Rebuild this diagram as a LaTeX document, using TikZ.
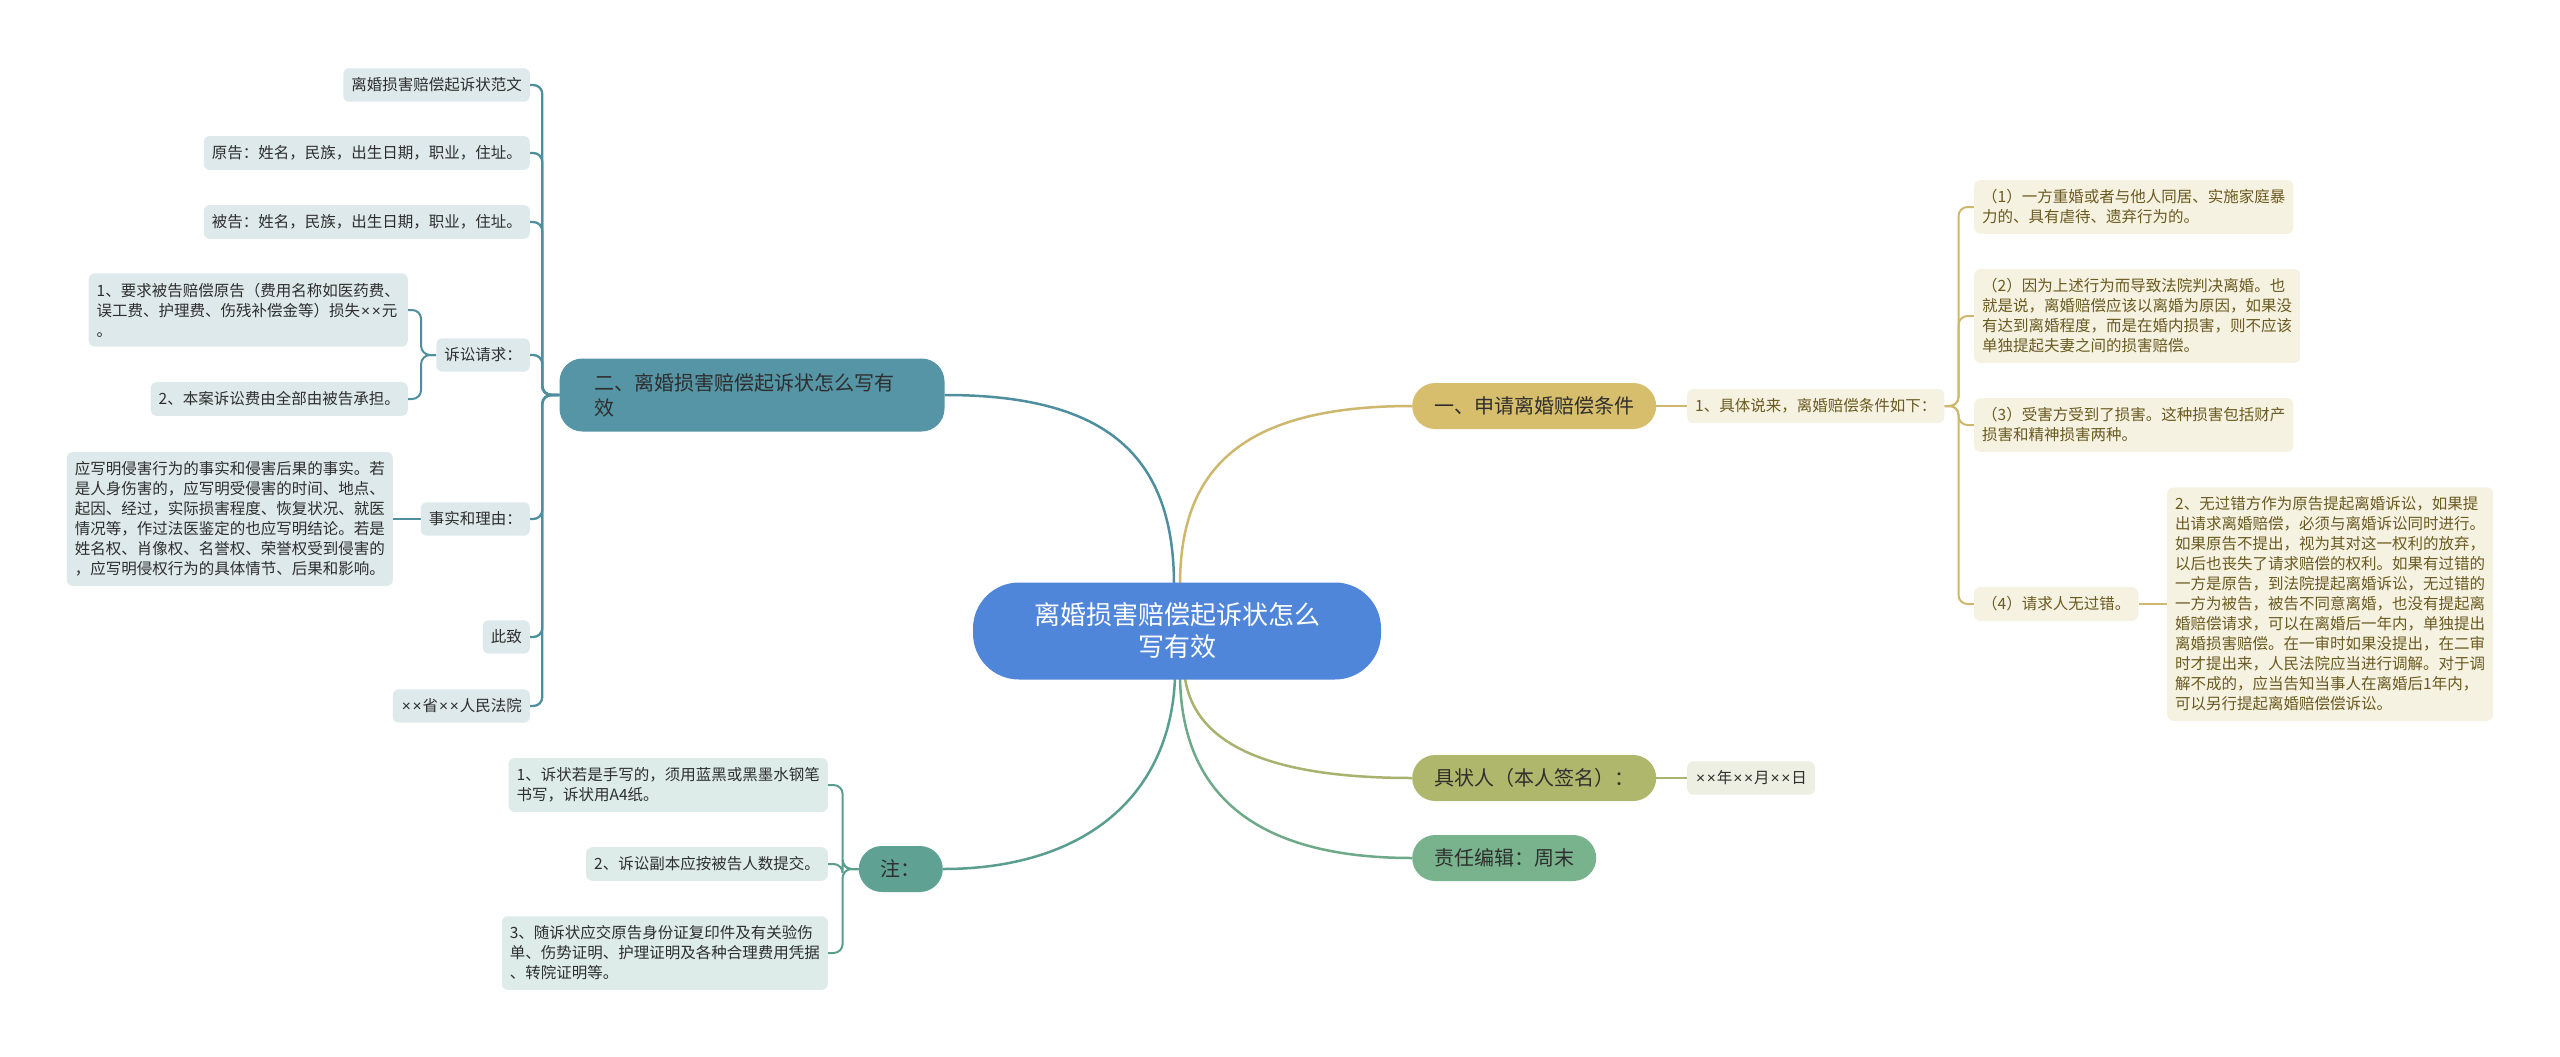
\documentclass[tikz,border=0pt]{standalone}
\usepackage{fontspec}
\setmainfont{Noto Sans CJK SC}
\newfontfamily\latinfont{Liberation Sans}
\usepackage{tikz}
\usetikzlibrary{positioning}
\usetikzlibrary{backgrounds}
\definecolor{rootblue}{HTML}{4F86DA}
\definecolor{tealB}{HTML}{5595A5}
\definecolor{tealL}{HTML}{4F8E9F}
\definecolor{tealleaf}{HTML}{DEE9EC}
\definecolor{goldB}{HTML}{D6BE6C}
\definecolor{goldL}{HTML}{CDB86E}
\definecolor{goldleaf}{HTML}{F6F2E1}
\definecolor{goldtext}{HTML}{6A5A20}
\definecolor{oliveB}{HTML}{AFB76C}
\definecolor{oliveL}{HTML}{A9B26E}
\definecolor{oliveleaf}{HTML}{EEEFE3}
\definecolor{greenB}{HTML}{78B38D}
\definecolor{greenL}{HTML}{6EA98A}
\definecolor{noteB}{HTML}{5FA293}
\definecolor{noteL}{HTML}{5A9E8F}
\definecolor{noteleaf}{HTML}{DDECE8}
\definecolor{darktext}{HTML}{2E2E2E}
\newcommand{\leaffont}{\fontsize{15.5}{20}\selectfont}
\newcommand{\mainfont}{\fontsize{20}{25}\selectfont}
\newcommand{\xmark}{\kern0.9pt{\latinfont ×}\kern0.9pt}
\tikzset{
  rootnode/.style={fill=rootblue, text=white, align=center, inner sep=0pt,
    minimum width=408pt, minimum height=97pt, rounded corners=46pt,
    font=\fontsize{26}{32}\selectfont},
  mainnode/.style={rounded corners=23pt, inner xsep=22pt, inner ysep=0pt,
    minimum height=46pt, text=darktext, font=\mainfont, align=left},
  leaf/.style={rounded corners=6pt, inner xsep=8pt, inner ysep=9.5pt,
    align=left, font=\leaffont, text=darktext},
  leafB/.style={leaf, fill=tealleaf},
  leafG/.style={leaf, fill=goldleaf, text=goldtext},
  leafO/.style={leaf, fill=oliveleaf},
  leafN/.style={leaf, fill=noteleaf},
  trunk/.style={line width=2.5pt},
  twig/.style={line width=2pt, rounded corners=9pt},
}

\begin{document}
\begin{tikzpicture}[x=1pt,y=-1pt]
\useasboundingbox (0,0) rectangle (2560,1057);

% centre and main branches
\node[rootnode] (root) at (1177,631) {离婚损害赔偿起诉状怎么\\写有效};
\node[mainnode, fill=tealB, text width=315pt, inner xsep=35pt, minimum height=73pt] (two) at (752,395) {二、离婚损害赔偿起诉状怎么写有\\效};
\node[mainnode, fill=goldB, anchor=west] (one) at (1412,406) {一、申请离婚赔偿条件};
\node[mainnode, fill=oliveB, anchor=west] (sign) at (1412,778) {具状人（本人签名）：};
\node[mainnode, fill=greenB, anchor=west] (editor) at (1412,858) {责任编辑：周末};
\node[mainnode, fill=noteB, anchor=east] (note) at (943,869) {注：};

% left: 二
\node[leafB, anchor=east] (fanwen) at (530,85) {离婚损害赔偿起诉状范文};
\node[leafB, anchor=east] (plaintiff) at (530,153) {原告：姓名，民族，出生日期，职业，住址。};
\node[leafB, anchor=east] (defendant) at (530,222) {被告：姓名，民族，出生日期，职业，住址。};
\node[leafB, anchor=east] (claims) at (530,355) {诉讼请求：};
\node[leafB, anchor=east] (claim1) at (408,310) {1、要求被告赔偿原告（费用名称如医药费、\\误工费、护理费、伤残补偿金等）损失\xmark\xmark 元\\。};
\node[leafB, anchor=east] (claim2) at (408,399) {2、本案诉讼费由全部由被告承担。};
\node[leafB, anchor=east] (facts) at (530,519) {事实和理由：};
\node[leafB, anchor=east] (factstext) at (393,519) {应写明侵害行为的事实和侵害后果的事实。若\\是人身伤害的，应写明受侵害的时间、地点、\\起因、经过，实际损害程度、恢复状况、就医\\情况等，作过法医鉴定的也应写明结论。若是\\姓名权、肖像权、名誉权、荣誉权受到侵害的\\，应写明侵权行为的具体情节、后果和影响。};
\node[leafB, anchor=east] (regards) at (530,637) {此致};
\node[leafB, anchor=east] (court) at (530,706) {\xmark\xmark 省\xmark\xmark 人民法院};

% left bottom: 注
\node[leafN, anchor=east] (note1) at (828,785) {1、诉状若是手写的，须用蓝黑或黑墨水钢笔\\书写，诉状用A4纸。};
\node[leafN, anchor=east] (note2) at (828,864) {2、诉讼副本应按被告人数提交。};
\node[leafN, anchor=east] (note3) at (828,953) {3、随诉状应交原告身份证复印件及有关验伤\\单、伤势证明、护理证明及各种合理费用凭据\\、转院证明等。};

% right: 一
\node[leafG, anchor=west] (detail) at (1687,406) {1、具体说来，离婚赔偿条件如下：};
\node[leafG, anchor=west] (cond1) at (1974,207) {（1）一方重婚或者与他人同居、实施家庭暴\\力的、具有虐待、遗弃行为的。};
\node[leafG, anchor=west] (cond2) at (1974,316) {（2）因为上述行为而导致法院判决离婚。也\\就是说，离婚赔偿应该以离婚为原因，如果没\\有达到离婚程度，而是在婚内损害，则不应该\\单独提起夫妻之间的损害赔偿。};
\node[leafG, anchor=west] (cond3) at (1974,425) {（3）受害方受到了损害。这种损害包括财产\\损害和精神损害两种。};
\node[leafG, anchor=west] (cond4) at (1974,604) {（4）请求人无过错。};
\node[leafG, anchor=west] (nofault) at (2167,604) {2、无过错方作为原告提起离婚诉讼，如果提\\出请求离婚赔偿，必须与离婚诉讼同时进行。\\如果原告不提出，视为其对这一权利的放弃，\\以后也丧失了请求赔偿的权利。如果有过错的\\一方是原告，到法院提起离婚诉讼，无过错的\\一方为被告，被告不同意离婚，也没有提起离\\婚赔偿请求，可以在离婚后一年内，单独提出\\离婚损害赔偿。在一审时如果没提出，在二审\\时才提出来，人民法院应当进行调解。对于调\\解不成的，应当告知当事人在离婚后1年内，\\可以另行提起离婚赔偿偿诉讼。};
\node[leafO, anchor=west] (date) at (1687,778) {\xmark\xmark 年\xmark\xmark 月\xmark\xmark 日};

\coordinate (rtop1) at (1174,585);
\coordinate (rtop2) at (1180,585);
\coordinate (rbot1) at (1175,678);
\coordinate (rbot2) at (1180,678);
\coordinate (rbot3) at (1185,678);

\begin{scope}[on background layer]
\fill[white] (0,0) rectangle (2560,1057);
\draw[trunk, tealL] (rtop1) .. controls (1174,450) and (1100,395) .. (two.east);
\draw[trunk, goldL] (rtop2) .. controls (1180,470) and (1240,406) .. (one.west);
\draw[trunk, noteL] (rbot1) .. controls (1170,800) and (1080,869) .. (note.east);
\draw[trunk, oliveL] (rbot3) .. controls (1195,745) and (1270,778) .. (sign.west);
\draw[trunk, greenL] (rbot2) .. controls (1182,790) and (1250,858) .. (editor.west);

\foreach \leafname in {fanwen,plaintiff,defendant,claims,facts,regards,court}
  \draw[twig, tealL, line width=2.3pt] (two.west) -- ++(-17,0) |- (\leafname.east);
\foreach \leafname in {claim1,claim2}
  \draw[twig, tealL] (claims.west) -- ++(-15,0) |- (\leafname.east);
\draw[twig, tealL] (facts.west) -- (factstext.east);

\foreach \leafname in {note1,note2,note3}
  \draw[twig, noteL] (note.west) -- ++(-16,0) |- (\leafname.east);

\draw[twig, goldL] (one.east) -- (detail.west);
\foreach \leafname in {cond1,cond2,cond3,cond4}
  \draw[twig, goldL] (detail.east) -- ++(14,0) |- (\leafname.west);
\draw[twig, goldL] (cond4.east) -- (nofault.west);

\draw[twig, oliveL] (sign.east) -- (date.west);
\end{scope}
\end{tikzpicture}
\end{document}
